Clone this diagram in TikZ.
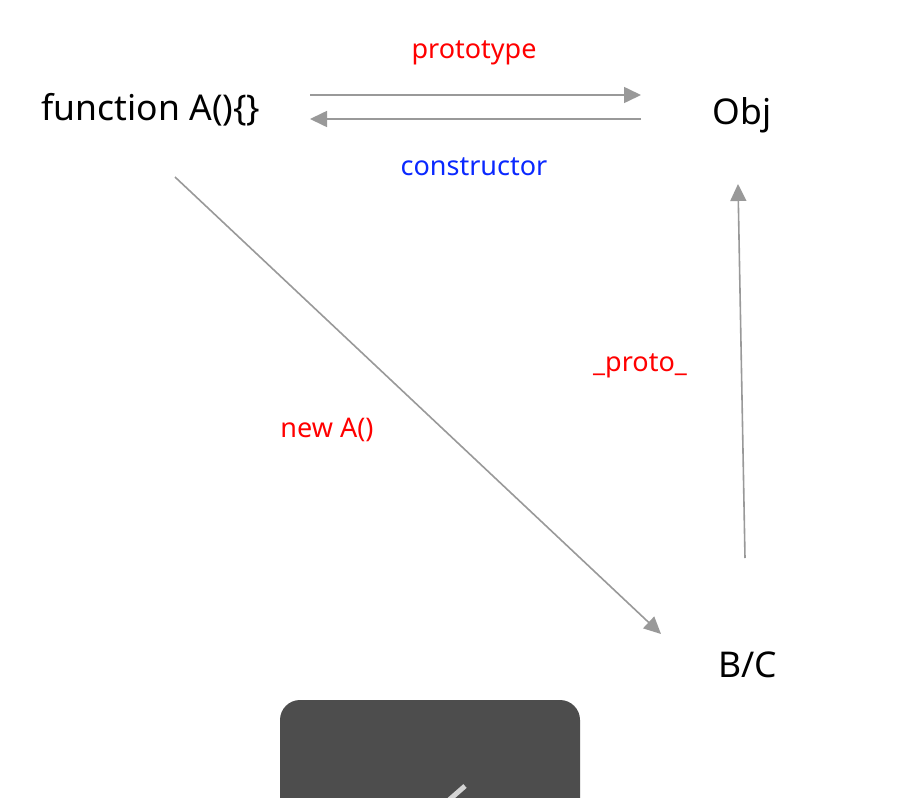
\documentclass[tikz,border=0pt]{standalone}
\usepackage{fontspec}
\setmainfont{Noto Sans}
\usetikzlibrary{arrows.meta}
\definecolor{linegray}{HTML}{999999}
\definecolor{lblred}{HTML}{FF0000}
\definecolor{lblblue}{HTML}{0A28FF}
\definecolor{toast}{HTML}{4D4D4D}
\definecolor{tick}{HTML}{D4D4D4}
\tikzset{
  conn/.style={draw=linegray, line width=1.6pt, -{Triangle[length=17pt,width=16pt]}},
  term/.style={font=\fontsize{35.5}{42}\selectfont, text=black, inner sep=0pt},
  lbl/.style={font=\fontsize{27}{32}\selectfont, inner sep=0pt},
}
\begin{document}
\begin{tikzpicture}[x=1pt,y=-1pt]
\clip (0,0) rectangle (898,798);
\fill[white] (0,0) rectangle (898,798);
% nodes
\node[term] (fa) at (151,110) {function A()\{\}};
\node[term] (obj) at (742,115) {Obj};
\node[term] (bc) at (748,665) {B/C};
\node[lbl, text=lblred] (lp) at (474,53) {prototype};
\node[lbl, text=lblblue] (lc) at (474,167) {constructor};
\node[lbl, text=lblred] (lpr) at (640,366) {\_proto\_};
\node[lbl, text=lblred] (ln) at (327,430) {new A()};
% connector ends
\coordinate (p1) at (310,95);
\coordinate (p2) at (641,95);
\coordinate (c1) at (641,119);
\coordinate (c2) at (310,119);
\coordinate (n1) at (175,177);
\coordinate (n2) at (661,634);
\coordinate (u1) at (745,558);
\coordinate (u2) at (738,184);
\draw[conn] (p1) -- (p2);
\draw[conn] (c1) -- (c2);
\draw[conn] (n1) -- (n2);
\draw[conn] (u1) -- (u2);
% toast
\fill[toast, rounded corners=20pt] (280,700) rectangle (580,840);
\draw[tick, line width=5pt] (449,800) -- (465,786);
\end{tikzpicture}
\end{document}
